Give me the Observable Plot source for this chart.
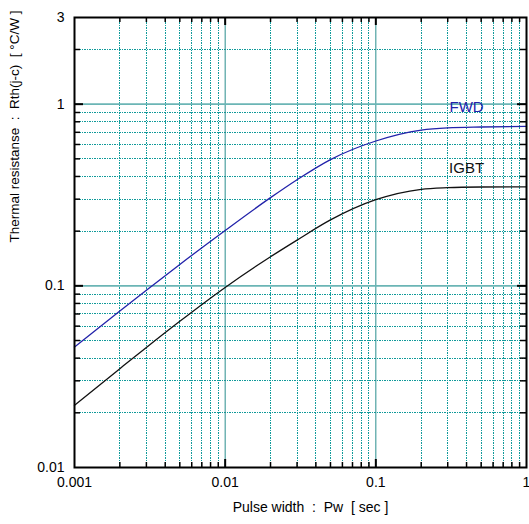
<!DOCTYPE html>
<html>
<head>
<meta charset="utf-8">
<script src="https://cdn.jsdelivr.net/npm/d3@7"></script>
<script src="https://cdn.jsdelivr.net/npm/@observablehq/plot@0.6"></script>
<style>
  html, body { margin: 0; padding: 0; background: #fff; }
  #chart svg { display: block; }
</style>
</head>
<body>
<div id="chart"></div>
<script>
// Data
const pulseWidth = [0.001, 0.002, 0.003, 0.005, 0.01, 0.02, 0.03, 0.05, 0.1, 0.2, 0.3, 0.5, 1];
const fwdRth     = [0.046, 0.0727, 0.0946, 0.1312, 0.2017, 0.3058, 0.3838, 0.4955, 0.627, 0.720, 0.741, 0.749, 0.754];
const igbtRth    = [0.022, 0.0350, 0.0458, 0.0638, 0.0980, 0.1446, 0.1786, 0.2306, 0.298, 0.340, 0.347, 0.350, 0.351];

const xTickLabels = [0.001, 0.01, 0.1, 1];
const yTickLabels = [0.01, 0.1, 1, 3];
const xMajorGrid = [0.01, 0.1];
const yMajorGrid = [0.1, 1];
const xMinorGrid = [0.002,0.003,0.004,0.005,0.006,0.007,0.008,0.009,
                    0.02,0.03,0.04,0.05,0.06,0.07,0.08,0.09,
                    0.2,0.3,0.4,0.5,0.6,0.7,0.8,0.9];
const yMinorGrid = [0.02,0.03,0.04,0.05,0.06,0.07,0.08,0.09,
                    0.2,0.3,0.4,0.5,0.6,0.7,0.8,0.9,2];
const seriesLabels = [
  {name: "FWD", x: 0.40, y: 0.96, color: "#2222aa"},
  {name: "IGBT", x: 0.40, y: 0.445, color: "#111111"}
];

const fwd = pulseWidth.map((x, i) => ({x, y: fwdRth[i]}));
const igbt = pulseWidth.map((x, i) => ({x, y: igbtRth[i]}));

const W = 529, H = 524;
const mt = 17, mb = 57, ml = 74, mr = 3;
const ph = H - mt - mb, pw = W - ml - mr;
const teal = "#109a9a";
const major = 8, minor = 5;

const chart = Plot.plot({
  width: W, height: H,
  marginTop: mt, marginBottom: mb, marginLeft: ml, marginRight: mr,
  style: {fontFamily: "'Liberation Sans', Arial, sans-serif", background: "#fff"},
  x: {type: "log", domain: [0.001, 1], axis: null},
  y: {type: "log", domain: [0.01, 3], axis: null},
  marks: [
    // minor dotted grid
    Plot.ruleX(xMinorGrid, {stroke: teal, strokeWidth: 1, strokeDasharray: "1.5,1", shapeRendering: "crispEdges"}),
    Plot.ruleY(yMinorGrid, {stroke: teal, strokeWidth: 1, strokeDasharray: "1.5,1", shapeRendering: "crispEdges"}),
    // major solid grid
    Plot.ruleX(xMajorGrid, {stroke: "#2a8e8e", strokeWidth: 1}),
    Plot.ruleY(yMajorGrid, {stroke: "#6bb5b5", strokeWidth: 1.8}),
    // curves
    Plot.line(fwd, {x: "x", y: "y", stroke: "#2222aa", strokeWidth: 1.3, curve: "monotone-x"}),
    Plot.line(igbt, {x: "x", y: "y", stroke: "#111", strokeWidth: 1.3, curve: "monotone-x"}),
    // series labels
    Plot.text(seriesLabels, {x: "x", y: "y", text: "name", fill: "color", fontSize: 15}),
    // frame
    Plot.frame({stroke: "#000", strokeWidth: 2}),
    // inward tick marks: bottom / top
    Plot.ruleX(xMinorGrid, {stroke: "#000", strokeWidth: 1.5, insetTop: ph - minor}),
    Plot.ruleX(xMinorGrid, {stroke: "#000", strokeWidth: 1.5, insetBottom: ph - minor}),
    Plot.ruleX(xMajorGrid, {stroke: "#000", strokeWidth: 2, insetTop: ph - major}),
    Plot.ruleX(xMajorGrid, {stroke: "#000", strokeWidth: 2, insetBottom: ph - major}),
    // inward tick marks: left / right
    Plot.ruleY(yMinorGrid, {stroke: "#000", strokeWidth: 1.5, insetRight: pw - minor - 1}),
    Plot.ruleY(yMinorGrid, {stroke: "#000", strokeWidth: 1.5, insetLeft: pw - minor - 1}),
    Plot.ruleY(yMajorGrid, {stroke: "#000", strokeWidth: 2, insetRight: pw - major - 1}),
    Plot.ruleY(yMajorGrid, {stroke: "#000", strokeWidth: 2, insetLeft: pw - major - 1}),
    // axes (labels only)
    Plot.axisX(xTickLabels, {anchor: "bottom", tickSize: 0, tickPadding: 10, fontSize: 14, tickFormat: d => String(d), label: null}),
    Plot.axisY(yTickLabels, {anchor: "left", tickSize: 0, tickPadding: 10, fontSize: 14, tickFormat: d => String(d), label: null}),
    // axis titles
    Plot.text(["Pulse width  :  Pw  [ sec ]"], {frameAnchor: "bottom", dx: 10, dy: 44, fontSize: 14, fill: "#000"}),
    Plot.text(["Thermal resistanse  :  Rth(j-c)  [ °C/W ]"], {frameAnchor: "left", dx: -60, dy: 0, rotate: -90, fontSize: 13.5, fill: "#000"})
  ]
});
chart.querySelectorAll("text").forEach(t => t.setAttribute("xml:space", "preserve"));
chart.style.whiteSpace = "pre";
document.getElementById("chart").append(chart);
</script>
</body>
</html>
